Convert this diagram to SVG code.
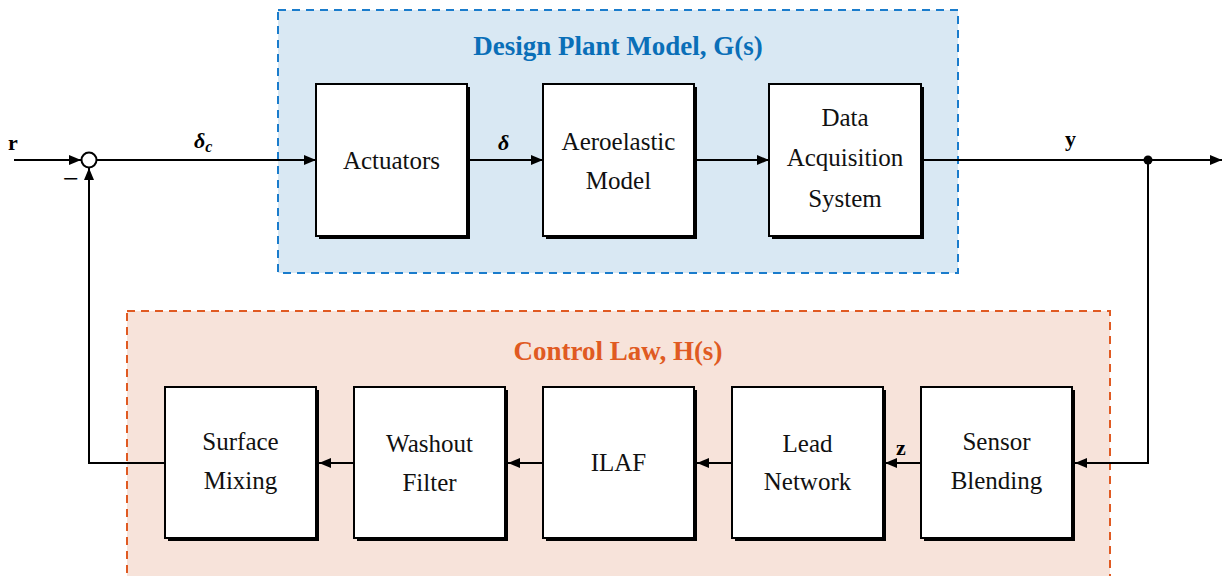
<svg xmlns="http://www.w3.org/2000/svg" width="1225" height="576" viewBox="0 0 1225 576">
<defs>
<marker id="ah" viewBox="0 0 12 10" refX="12" refY="5" markerWidth="12" markerHeight="10" markerUnits="userSpaceOnUse" orient="auto">
<path d="M0,0 L12,5 L0,10 Z" fill="#000"/>
</marker>
</defs>
<style>
.blk rect.sh{fill:#000}
.blk rect.bx{fill:#fff;stroke:#000;stroke-width:2}
.bt{font-family:"Liberation Serif",serif;font-size:25px;fill:#111;text-anchor:middle}
.lbl{font-family:"Liberation Serif",serif;font-size:22px;font-weight:bold;fill:#000}
.ttl{font-family:"Liberation Serif",serif;font-size:27px;font-weight:bold;text-anchor:middle}
.cn{fill:none;stroke:#000;stroke-width:2}
</style>
<rect width="1225" height="576" fill="#fff"/>
<g id="plant-region">
<rect x="278" y="10" width="680" height="263" fill="#d9e8f3" stroke="#1a7ccc" stroke-width="2" stroke-dasharray="8,6"/>
<text class="ttl" x="618" y="55" fill="#0a6fb8">Design Plant Model, G(s)</text>
</g>
<g id="control-region">
<rect x="127" y="311" width="983" height="268" fill="#f7e3da" stroke="#e05a22" stroke-width="2" stroke-dasharray="8,6"/>
<text class="ttl" x="618" y="360" fill="#e05a22">Control Law, H(s)</text>
</g>
<g id="connectors">
<line class="cn" x1="14" y1="160" x2="81" y2="160" marker-end="url(#ah)"/>
<line class="cn" x1="97" y1="160" x2="316" y2="160" marker-end="url(#ah)"/>
<line class="cn" x1="467" y1="160" x2="543" y2="160" marker-end="url(#ah)"/>
<line class="cn" x1="694" y1="160" x2="769" y2="160" marker-end="url(#ah)"/>
<line class="cn" x1="921" y1="160" x2="1222" y2="160" marker-end="url(#ah)"/>
<polyline class="cn" points="1148,160 1148,463 1075,463" marker-end="url(#ah)"/>
<line class="cn" x1="921" y1="463" x2="885" y2="463" marker-end="url(#ah)"/>
<line class="cn" x1="732" y1="463" x2="697" y2="463" marker-end="url(#ah)"/>
<line class="cn" x1="543" y1="463" x2="508" y2="463" marker-end="url(#ah)"/>
<line class="cn" x1="354" y1="463" x2="319" y2="463" marker-end="url(#ah)"/>
<polyline class="cn" points="165,463 89,463 89,168" marker-end="url(#ah)"/>
<circle cx="1148" cy="160" r="4.5" fill="#000"/>
</g>
<g id="sum">
<circle cx="89" cy="160" r="7.5" fill="#fff" stroke="#000" stroke-width="2"/>
<text x="63" y="188" font-family="Liberation Serif, serif" font-size="28" fill="#000">−</text>
</g>
<g id="labels">
<text class="lbl" x="8" y="150">r</text>
<text class="lbl" x="194" y="148" font-style="italic">δ<tspan font-size="16" dy="4">c</tspan></text>
<text class="lbl" x="498" y="150" font-style="italic">δ</text>
<text class="lbl" x="1065" y="146">y</text>
<text class="lbl" x="896" y="455">z</text>
</g>
<g id="actuators" class="blk"><rect class="sh" x="319" y="87" width="151" height="152"/><rect class="bx" x="316" y="84" width="151" height="152"/><text class="bt" x="391.5" y="169">Actuators</text></g>
<g id="aeroelastic" class="blk"><rect class="sh" x="546" y="87" width="151" height="152"/><rect class="bx" x="543" y="84" width="151" height="152"/><text class="bt" x="618.5" y="150">Aeroelastic</text><text class="bt" x="618.5" y="189">Model</text></g>
<g id="daq" class="blk"><rect class="sh" x="772" y="87" width="152" height="152"/><rect class="bx" x="769" y="84" width="152" height="152"/><text class="bt" x="845" y="126">Data</text><text class="bt" x="845" y="166">Acquisition</text><text class="bt" x="845" y="207">System</text></g>
<g id="surface-mixing" class="blk"><rect class="sh" x="168" y="390" width="151" height="151"/><rect class="bx" x="165" y="387" width="151" height="151"/><text class="bt" x="240.5" y="450">Surface</text><text class="bt" x="240.5" y="489">Mixing</text></g>
<g id="washout" class="blk"><rect class="sh" x="357" y="390" width="151" height="151"/><rect class="bx" x="354" y="387" width="151" height="151"/><text class="bt" x="429.5" y="452">Washout</text><text class="bt" x="429.5" y="491">Filter</text></g>
<g id="ilaf" class="blk"><rect class="sh" x="546" y="390" width="151" height="151"/><rect class="bx" x="543" y="387" width="151" height="151"/><text class="bt" x="618.5" y="471">ILAF</text></g>
<g id="lead" class="blk"><rect class="sh" x="735" y="390" width="151" height="151"/><rect class="bx" x="732" y="387" width="151" height="151"/><text class="bt" x="807.5" y="452">Lead</text><text class="bt" x="807.5" y="490">Network</text></g>
<g id="sensor-blending" class="blk"><rect class="sh" x="924" y="390" width="151" height="151"/><rect class="bx" x="921" y="387" width="151" height="151"/><text class="bt" x="996.5" y="450">Sensor</text><text class="bt" x="996.5" y="489">Blending</text></g>
</svg>
